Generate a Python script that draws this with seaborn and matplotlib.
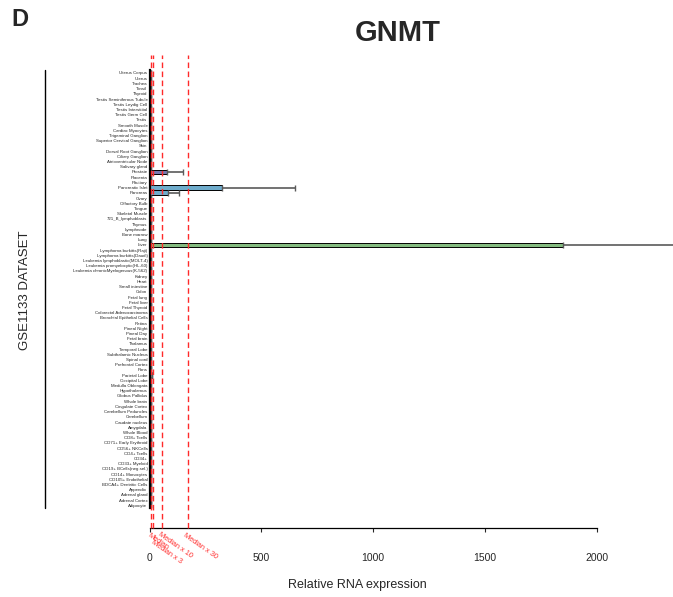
import matplotlib
matplotlib.use("Agg")
import matplotlib.pyplot as plt
import numpy as np
import pandas as pd
import seaborn as sns

# ── Data (GSE1133 tissues, top to bottom) ──
tissues = [
    "Uterus Corpus", "Uterus", "Trachea", "Tonsil", "Thyroid",
    "Testis Seminiferous Tubule", "Testis Leydig Cell", "Testis Interstitial",
    "Testis Germ Cell", "Testis", "Smooth Muscle", "Cardiac Myocytes",
    "Trigeminal Ganglion", "Superior Cervical Ganglion", "Skin",
    "Dorsal Root Ganglion", "Ciliary Ganglion", "Atrioventricular Node",
    "Salivary gland", "Prostate", "Placenta", "Pituitary", "Pancreatic Islet",
    "Pancreas", "Ovary", "Olfactory Bulb", "Tongue", "Skeletal Muscle",
    "721_B_lymphoblasts", "Thymus", "Lymphnode", "Bone marrow", "Lung", "Liver",
    "Lymphoma burkitts(Raji)", "Lymphoma burkitts(Daudi)",
    "Leukemia lymphoblastic(MOLT-4)", "Leukemia promyelocytic(HL-60)",
    "Leukemia chronicMyelogenous(K-562)", "Kidney", "Heart", "Small intestine",
    "Colon", "Fetal lung", "Fetal liver", "Fetal Thyroid",
    "Colorectal Adenocarcinoma", "Bronchial Epithelial Cells", "Retina",
    "Pineal Night", "Pineal Day", "Fetal brain", "Thalamus", "Temporal Lobe",
    "Subthalamic Nucleus", "Spinal cord", "Prefrontal Cortex", "Pons",
    "Parietal Lobe", "Occipital Lobe", "Medulla Oblongata", "Hypothalamus",
    "Globus Pallidus", "Whole brain", "Cingulate Cortex",
    "Cerebellum Peduncles", "Cerebellum", "Caudate nucleus", "Amygdala",
    "Whole Blood", "CD8+ Tcells", "CD71+ Early Erythroid", "CD56+ NKCells",
    "CD4+ Tcells", "CD34+", "CD33+ Myeloid", "CD19+ BCells(neg.sel.)",
    "CD14+ Monocytes", "CD105+ Endothelial", "BDCA4+ Dentritic Cells",
    "Appendix", "Adrenal gland", "Adrenal Cortex", "Adipocyte",
]

expression = [
    5, 5, 6, 5, 6, 5, 4, 5, 5, 6, 5, 6, 5, 6, 5, 5, 6, 5,
    6, 76, 6, 5, 322, 82, 5, 5, 6, 5, 5, 6, 5, 5, 6, 1848,
    5, 5, 5, 5, 6, 7, 6, 6, 5, 6, 7, 5, 5, 5, 6, 5, 5, 6,
    5, 5, 5, 5, 6, 5, 9, 6, 5, 6, 5, 6, 5, 5, 6, 5, 6, 5,
    5, 5, 5, 5, 6, 5, 5, 5, 6, 5, 5, 6, 5, 5,
]

errors = [
    1, 1, 1, 1, 1, 1, 1, 1, 1, 1, 1, 1, 1, 1, 1, 1, 1, 1,
    1, 72, 1, 1, 328, 52, 1, 1, 1, 1, 1, 1, 1, 1, 1, 620,
    1, 1, 1, 1, 1, 1, 1, 1, 1, 1, 1, 1, 1, 1, 1, 1, 1, 1,
    1, 1, 1, 1, 1, 1, 2, 1, 1, 1, 1, 1, 1, 1, 1, 1, 1, 1,
    1, 1, 1, 1, 1, 1, 1, 1, 1, 1, 1, 1, 1, 1,
]

median = 5.8
median_factors = [1, 3, 10, 30]
median_labels = ["Median", "Median x 3", "Median x 10", "Median x 30"]
xticks = [0, 500, 1000, 1500, 2000]

highlight = {
    "Prostate": "#6f70b9",
    "Pancreatic Islet": "#5fb1dc",
    "Pancreas": "#5fb1dc",
    "Liver": "#7cc576",
}

# ──────────────────────────────────────────────
sns.set_style("white")
plt.rcParams["font.family"] = ["Liberation Sans", "DejaVu Sans"]

W, H = 673, 597
fig = plt.figure(figsize=(W / 100, H / 100), dpi=100)

x0_px, x2000_px = 149.5, 597.0
top_px, bot_px = 55.0, 528.0
ax = fig.add_axes([x0_px / W, 1 - bot_px / H,
                   (x2000_px - x0_px) / W, (bot_px - top_px) / H])

df = pd.DataFrame({"tissue": tissues, "expr": expression, "err": errors})
colors = [highlight.get(t, "#8c8c8c") for t in tissues]

sns.barplot(data=df, x="expr", y="tissue", hue="tissue", palette=colors,
            orient="h", errorbar=None, width=0.92, edgecolor="black",
            linewidth=0.7, legend=False, ax=ax)

ypos = np.arange(len(tissues))
ax.errorbar(df["expr"], ypos, xerr=[np.zeros(len(df)), df["err"]],
            fmt="none", ecolor="#5a5a5a", elinewidth=1.2, capsize=2,
            capthick=1.0, clip_on=False, zorder=1)

# median reference lines
for f in median_factors:
    ax.axvline(median * f, color="#ff2a2a", lw=1.0, ls=(0, (4, 2.5)),
               clip_on=False, zorder=3)

ax.set_xlim(0, 2000)
n = len(tissues)
ax.set_ylim(n - 1 + (bot_px - 505.4) / 5.21, -(73 - top_px) / 5.21)

ax.set_xticks(xticks)
ax.set_xticklabels([str(t) for t in xticks], fontsize=7.5)
ax.tick_params(axis="x", length=3, width=0.8, pad=15, direction="out",
               bottom=True)
ax.tick_params(axis="y", length=0, pad=1.5, labelsize=3.15)
ax.set_xlabel("")
ax.set_ylabel("")

for s in ["top", "right"]:
    ax.spines[s].set_visible(False)
ax.spines["bottom"].set_bounds(0, 2000)
ax.spines["bottom"].set_linewidth(0.9)
ax.spines["left"].set_bounds(-0.5, n - 0.5)
ax.spines["left"].set_linewidth(1.6)
ax.spines["left"].set_color("black")
ax.spines["bottom"].set_color("black")

# median labels under the axis
label_pos = [(150.5, 532), (153.5, 539), (160.5, 531), (186.0, 532)]
for (px, py), lab in zip(label_pos, median_labels):
    fig.text(px / W, 1 - py / H, lab, color="#ff3030", fontsize=5.3,
             rotation=-35, rotation_mode="anchor", ha="left", va="top")

# titles and labels
fig.text(398 / W, 1 - 33 / H, "GNMT", fontsize=21, fontweight="bold",
         ha="center", va="center")
fig.text(20 / W, 1 - 19 / H, "D", fontsize=17, fontweight="bold",
         ha="center", va="center")
fig.text(357 / W, 1 - 585 / H, "Relative RNA expression", fontsize=9,
         ha="center", va="center")
fig.text(25 / W, 1 - 290 / H, "GSE1133 DATASET", fontsize=9.5,
         rotation=90, ha="center", va="center")
fig.add_artist(plt.Line2D([45 / W, 45 / W], [1 - 70 / H, 1 - 508 / H],
                          color="black", lw=1.0))

fig.savefig("out.png", dpi=100)
